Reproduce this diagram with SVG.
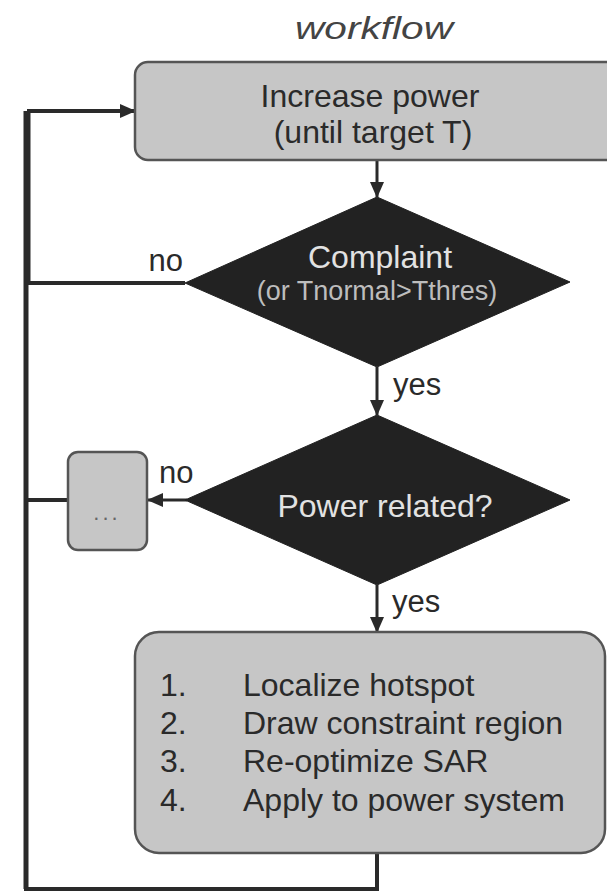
<svg xmlns="http://www.w3.org/2000/svg" width="607" height="893" viewBox="0 0 607 893">
<style>
text{font-family:"Liberation Sans",Arial,sans-serif;}
.box{fill:#c6c6c6;stroke:#555;stroke-width:2.5;}
.dia{fill:#222;stroke:#222;stroke-width:1;}
.dark{fill:#2a2a2a;font-size:32px;}
.lbl{fill:#2a2a2a;font-size:31px;}
.wt{fill:#e2e2e2;font-size:32px;}
.ln{fill:none;stroke:#2a2a2a;stroke-width:3;}
</style>
<defs>
<marker id="ah" markerUnits="userSpaceOnUse" markerWidth="16" markerHeight="14" refX="15" refY="7" orient="auto">
<path d="M0,0 L16,7 L0,14 Z" fill="#2a2a2a"/>
</marker>
</defs>
<rect width="607" height="893" fill="#fff"/>
<text x="374" y="39" text-anchor="middle" font-style="italic" font-size="31" fill="#444" textLength="158" lengthAdjust="spacingAndGlyphs">workflow</text>
<g id="connectors">
<path class="ln" d="M27,111 V283" style="stroke-width:7"/>
<path class="ln" d="M26,283 V889" style="stroke-width:5"/>
<path class="ln" d="M27,111 H135" style="stroke-width:4" marker-end="url(#ah)"/>
<path class="ln" d="M185,283 H27" style="stroke-width:4"/>
<path class="ln" d="M377,160 V197" marker-end="url(#ah)"/>
<path class="ln" d="M377,367 V415" marker-end="url(#ah)"/>
<path class="ln" d="M187,500 H148" marker-end="url(#ah)"/>
<path class="ln" d="M68,500 H26" style="stroke-width:4"/>
<path class="ln" d="M377,585 V632" marker-end="url(#ah)"/>
<path class="ln" d="M377,853 V889 H24" style="stroke-width:4"/>
<text class="lbl" x="183" y="271" text-anchor="end">no</text>
<text class="lbl" x="393" y="395">yes</text>
<text class="lbl" x="159" y="483">no</text>
<text class="lbl" x="392" y="612">yes</text>
</g>
<g id="increase">
<rect class="box" x="135" y="62" width="500" height="98" rx="13"/>
<text class="dark" x="370" y="107" text-anchor="middle">Increase power</text>
<text class="dark" x="373" y="143" text-anchor="middle">(until target T)</text>
</g>
<g id="complaint">
<polygon class="dia" points="377,197 570,282 377,367 185,283"/>
<text class="wt" x="380" y="268" text-anchor="middle">Complaint</text>
<text x="377" y="300" text-anchor="middle" font-size="27" fill="#bdbdbd">(or Tnormal&gt;Tthres)</text>
</g>
<g id="powerrelated">
<polygon class="dia" points="377,415 570,500 377,585 185,500"/>
<text class="wt" x="385" y="517" text-anchor="middle">Power related?</text>
</g>
<g id="other">
<rect class="box" x="68" y="452" width="79" height="98" rx="10"/>
<text x="107" y="520" text-anchor="middle" font-size="22" fill="#666" letter-spacing="3">...</text>
</g>
<g id="steps">
<rect class="box" x="135" y="632" width="470" height="221" rx="24"/>
<g class="dark">
<text x="160" y="696">1.</text><text x="243" y="696">Localize hotspot</text>
<text x="160" y="734">2.</text><text x="243" y="734">Draw constraint region</text>
<text x="160" y="772">3.</text><text x="243" y="772">Re-optimize SAR</text>
<text x="160" y="811">4.</text><text x="243" y="811">Apply to power system</text>
</g>
</g>
</svg>
